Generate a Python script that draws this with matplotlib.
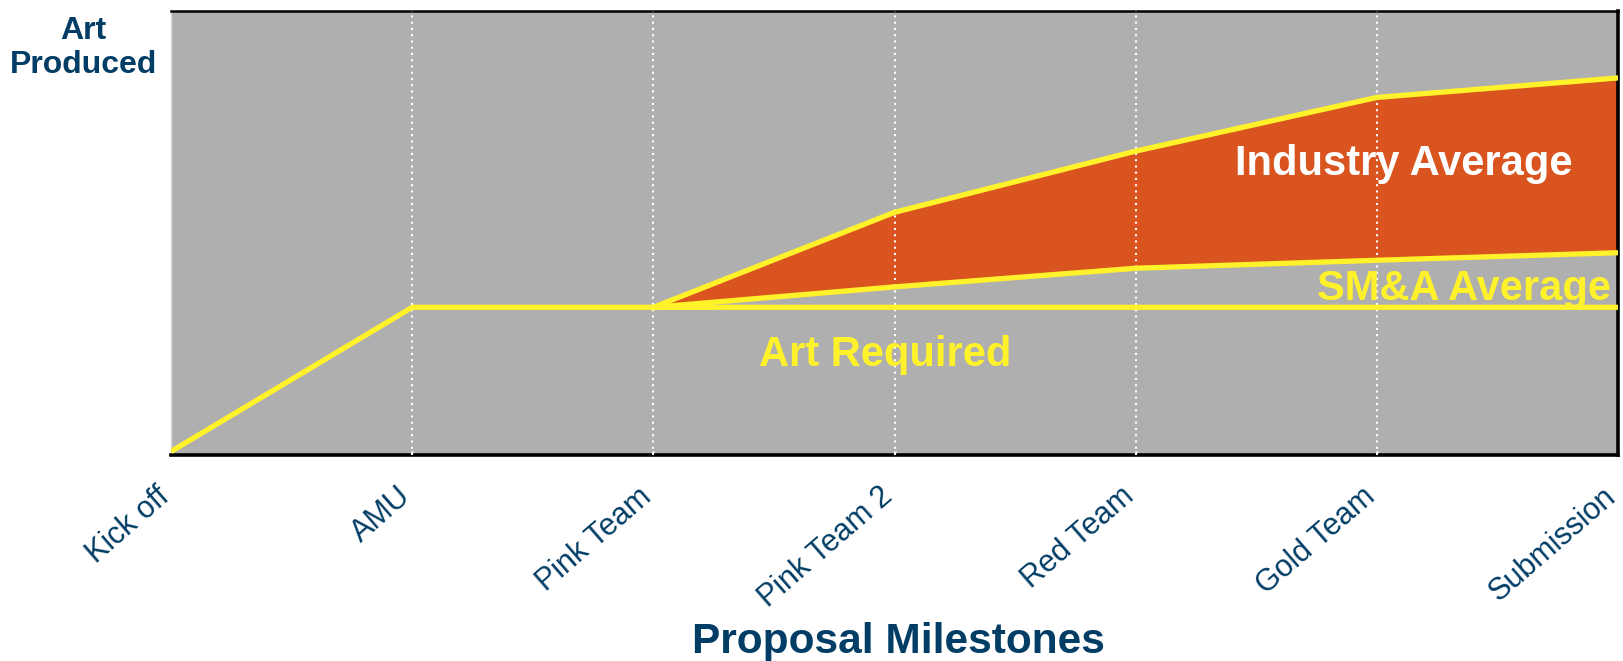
import numpy as np
import matplotlib.pyplot as plt
from matplotlib.transforms import ScaledTranslation

plt.rcParams['font.family'] = ['Liberation Sans', 'DejaVu Sans']

# data
milestones = ["Kick off", "AMU", "Pink Team", "Pink Team 2", "Red Team", "Gold Team", "Submission"]
art_required = [0.8, 33.3, 33.3, 33.3, 33.3, 33.3, 33.3]
industry_avg = [None, None, 33.3, 54.7, 68.5, 80.6, 85.0]
sma_avg = [None, None, 33.3, 37.9, 42.1, 43.9, 45.6]

navy = '#023d66'
yellow = '#fff22a'
orange = '#d9541e'

fig = plt.figure(figsize=(16.23, 6.61), dpi=100)
ax = fig.add_axes([0.1054, 0.3116, 0.8915, 0.6712])
ax.set_facecolor('#afafaf')

x = np.arange(len(milestones))
start = 2
xi = x[start:]
ind = np.array(industry_avg[start:], dtype=float)
sma = np.array(sma_avg[start:], dtype=float)

ax.fill_between(xi, sma, ind, color=orange, zorder=2)
ax.plot(x, art_required, color=yellow, lw=3.8, zorder=4, solid_capstyle='butt')
ax.plot(xi, ind, color=yellow, lw=3.8, zorder=4)
ax.plot(xi, sma, color=yellow, lw=3.8, zorder=4)

# vertical dotted gridlines
for xv in x[1:-1]:
    ax.axvline(xv, color='white', lw=1.5, ls=(0, (1, 2)), zorder=3)

ax.set_xlim(0, len(milestones) - 1)
ax.set_ylim(0, 100)
ax.set_yticks([])
ax.set_xticks(x)
ax.set_xticklabels(milestones, rotation=41, ha='right', va='top',
                   fontsize=22, color=navy)
ax.tick_params(axis='x', length=6, width=1.8, direction='inout',
               color='white', pad=16)
ax.xaxis.get_major_ticks()[0].tick1line.set_color('black')
shift = ScaledTranslation(4 / 100, 0, fig.dpi_scale_trans)
for lbl in ax.get_xticklabels():
    lbl.set_transform(lbl.get_transform() + shift)

ax.spines['top'].set_linewidth(1.8)
for side in ['bottom', 'right']:
    ax.spines[side].set_linewidth(2.6)
ax.spines['left'].set_color('#d8d8d8')
ax.spines['left'].set_linewidth(1.0)

# series labels
ax.text(5.11, 65.5, "Industry Average", color='white', fontsize=30,
        fontweight='bold', ha='center', va='center', zorder=5)
ax.text(5.36, 37.5, "SM&A Average", color=yellow, fontsize=30,
        fontweight='bold', ha='center', va='center', zorder=5)
ax.text(2.96, 22.5, "Art Required", color=yellow, fontsize=30,
        fontweight='bold', ha='center', va='center', zorder=5)

fig.text(83 / 1623, 1 - 48 / 661, "Art\nProduced", color=navy, fontsize=23,
         fontweight='bold', ha='center', va='center', multialignment='center',
         linespacing=1.15)
fig.text(898 / 1623, 1 - 642 / 661, "Proposal Milestones", color=navy,
         fontsize=30.5, fontweight='bold', ha='center', va='center')

fig.savefig('out.png', dpi=100)
